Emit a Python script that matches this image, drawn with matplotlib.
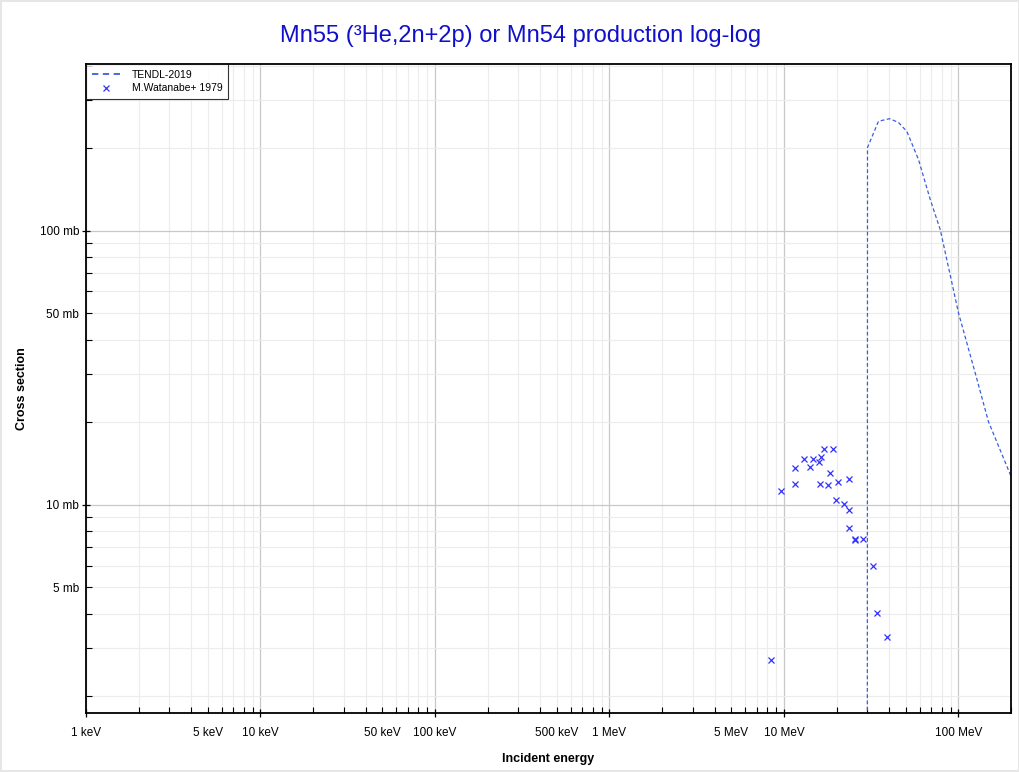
import numpy as np
import matplotlib.pyplot as plt
from matplotlib.ticker import LogLocator, FuncFormatter

plt.rcParams['font.family'] = ['Liberation Sans', 'DejaVu Sans']

# TENDL-2019 evaluation (energy in MeV, cross section in mb)
tendl_e = [29.9, 30.1, 34.8, 40.3, 45.3, 50.6, 59.0, 68.9, 78.6, 100.0, 124.6, 148.5, 200.0]
tendl_xs = [1e-4, 201, 250.6, 256, 248, 230, 181.6, 129.8, 100.8, 50.1, 30.3, 20.1, 12.7]

# M.Watanabe+ 1979 measurements
exp_e = [8.38, 9.65, 11.55, 11.61, 13.07, 14.02, 14.58, 15.86, 15.99, 16.36, 16.86,
         17.86, 18.24, 19.08, 19.93, 20.28, 21.95, 23.56, 23.66, 23.66, 25.61, 25.65,
         28.46, 32.34, 34.22, 38.9]
exp_xs = [2.72, 11.25, 11.9, 13.57, 14.75, 13.68, 14.75, 14.27, 11.9, 14.88, 15.97,
          11.76, 13.05, 15.97, 10.37, 12.06, 10.08, 12.37, 9.57, 8.26, 7.48, 7.44,
          7.51, 5.99, 4.04, 3.29]

fig = plt.figure(figsize=(10.2, 7.72), dpi=100)
fig.patch.set_edgecolor('#e6e6e6')
fig.patch.set_linewidth(1.5)
ax = fig.add_axes([0.0843, 0.0764, 0.9069, 0.8406])

ax.plot(tendl_e, tendl_xs, linestyle=(0, (3, 2)), color='#3a5ee0', lw=0.9, label='TENDL-2019')
ax.plot(exp_e, exp_xs, 'x', color='#3333ff', ms=4.2, mew=0.9, label='M.Watanabe+ 1979')

ax.set_xscale('log')
ax.set_yscale('log')
ax.set_xlim(1e-3, 200)
ax.set_ylim(1.74, 405)


def fmt_e(v, pos=None):
    if v < 1:
        return f'{v * 1000:g} keV'
    return f'{v:g} MeV'


def fmt_e_minor(v, pos=None):
    m = v / 10 ** np.floor(np.log10(v) + 1e-9)
    if abs(m - 5) < 1e-6 and v < 40:
        return fmt_e(v)
    return ''


def fmt_xs(v, pos=None):
    return f'{v:g} mb'


def fmt_xs_minor(v, pos=None):
    m = v / 10 ** np.floor(np.log10(v) + 1e-9)
    if abs(m - 5) < 1e-6:
        return f'{v:g} mb'
    return ''


ax.xaxis.set_major_locator(LogLocator(base=10, numticks=20))
ax.xaxis.set_minor_locator(LogLocator(base=10, subs=np.arange(2, 10), numticks=20))
ax.xaxis.set_major_formatter(FuncFormatter(fmt_e))
ax.xaxis.set_minor_formatter(FuncFormatter(fmt_e_minor))
ax.yaxis.set_major_locator(LogLocator(base=10, numticks=20))
ax.yaxis.set_minor_locator(LogLocator(base=10, subs=np.arange(2, 10), numticks=20))
ax.yaxis.set_major_formatter(FuncFormatter(fmt_xs))
ax.yaxis.set_minor_formatter(FuncFormatter(fmt_xs_minor))

ax.tick_params(which='major', direction='inout', length=6, width=0.9, labelsize=8.5, colors='black')
ax.tick_params(which='minor', direction='in', length=4, width=0.8, labelsize=8.5)
ax.tick_params(axis='x', which='major', pad=7)
ax.tick_params(axis='x', which='minor', pad=10)
ax.tick_params(axis='y', which='major', pad=2)
ax.tick_params(axis='y', which='minor', pad=5)

ax.grid(True, which='major', color='#c8c8c8', lw=0.9)
ax.grid(True, which='minor', color='#ececec', lw=0.8)
ax.set_axisbelow(True)

for s in ax.spines.values():
    s.set_color('black')
    s.set_linewidth(1.3)

ax.set_xlabel('Incident energy', fontsize=9, fontweight='bold', labelpad=10)
ax.set_ylabel('Cross section', fontsize=9, fontweight='bold', labelpad=8)
fig.text(0.51, 0.953, 'Mn55 (³He,2n+2p) or Mn54 production log-log', fontsize=17,
         color='#1010cc', ha='center', va='center')

leg = ax.legend(loc='upper left', fontsize=7.5, frameon=True, fancybox=False,
                borderaxespad=0, handlelength=2.7, borderpad=0.55, labelspacing=0.35,
                handletextpad=1.15)
leg.get_frame().set_edgecolor('black')
leg.get_frame().set_linewidth(0.8)
leg.get_lines()[0].set_linestyle((0, (3.5, 2.5)))
leg.get_lines()[0].set_linewidth(1.3)

fig.savefig('out.png', dpi=100)
